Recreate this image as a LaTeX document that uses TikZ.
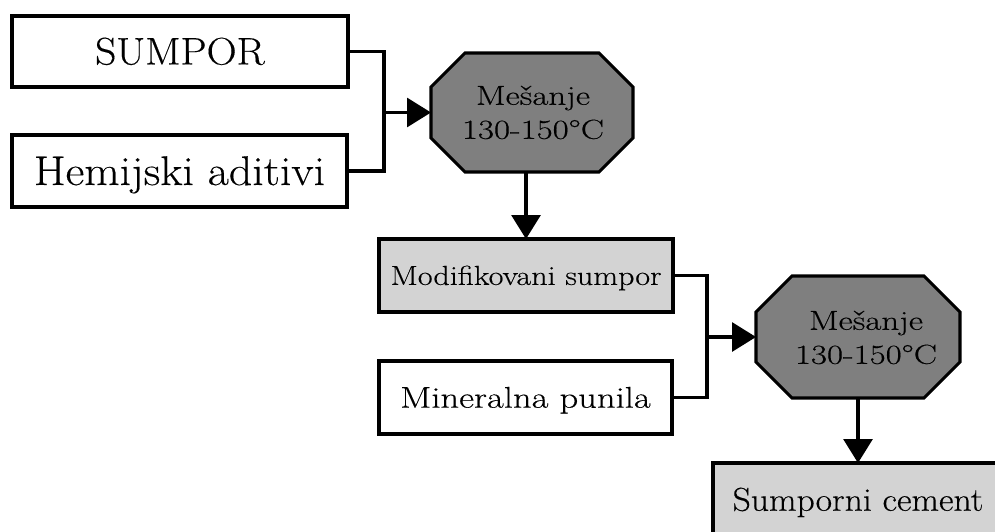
\documentclass[tikz,border=0pt]{standalone}
\usepackage{fontspec}
\setmainfont{Latin Modern Roman}[FakeBold=0.3]
\usetikzlibrary{arrows.meta,calc}

\definecolor{boxgray}{HTML}{D3D3D3}
\definecolor{mixgray}{HTML}{7F7F7F}

\tikzset{
  frame/.style={draw=black, line width=3.1pt, inner sep=0pt, outer sep=0pt,
    text depth=0pt, align=center},
  plainbox/.style={frame, fill=white},
  graybox/.style={frame, fill=boxgray},
  mixer/.style={rectangle, draw=none, inner sep=0pt, outer sep=0pt},
  mixshape/.style={draw=black, fill=mixgray, line width=3.1pt, line join=miter},
  mixlabel/.style={inner sep=0pt, outer sep=0pt,
    font=\fontsize{27.5}{34}\selectfont},
  link/.style={draw=black, line width=3.1pt},
  flow/.style={link, -{Triangle[length=24pt,width=29pt]}},
}

% wide setting of a label: horizontal stretch #1 of text #2
\newcommand\wide[2]{\scalebox{#1}[1]{#2}}

% octagon with chamfered corners, traced around a rectangular node
\newcommand\chamferpath[2]{%
  ($(#1.north west)+(#2,0)$) -- ($(#1.north east)+(-#2,0)$) --
  ($(#1.north east)+(0,#2)$) -- ($(#1.south east)+(0,-#2)$) --
  ($(#1.south east)+(-#2,0)$) -- ($(#1.south west)+(#2,0)$) --
  ($(#1.south west)+(0,-#2)$) -- ($(#1.north west)+(0,#2)$) -- cycle}

\begin{document}
\begin{tikzpicture}[x=1pt,y=-1pt]
  \clip (0,0) rectangle (995,532);
  \fill[white] (0,0) rectangle (995,532);

  % inputs of the first mixing step
  \node[plainbox, minimum width=336pt, minimum height=71pt, text height=26pt,
        font=\fontsize{38.5}{42}\selectfont] (sulfur) at (180,51.5)
        {\wide{1.08}{SUMPOR}};
  \node[plainbox, minimum width=335pt, minimum height=72pt, text height=28pt,
        font=\fontsize{41.5}{45}\selectfont] (additives) at (179.5,171)
        {\wide{1.105}{Hemijski aditivi}};

  % first mixing step
  \node[mixer, minimum width=202pt, minimum height=119pt] (mix1) at (532,112.5) {};
  \path[mixshape] \chamferpath{mix1}{34};
  \node[mixlabel] (mix1text) at ($(mix1)+(1,2.5)$)
        {\wide{1.27}{\begin{tabular}{@{}c@{}}Mešanje\\130-150°C\end{tabular}}};

  % modified sulfur and fillers
  \node[graybox, minimum width=294pt, minimum height=73pt, text height=18.8pt,
        font=\fontsize{27.5}{30}\selectfont] (modified) at (526,275.5)
        {\wide{1.168}{Modifikovani sumpor}};
  \node[plainbox, minimum width=293pt, minimum height=73pt, text height=20.4pt,
        font=\fontsize{30}{33}\selectfont] (fillers) at (525.5,397.5)
        {\wide{1.22}{Mineralna punila}};

  % second mixing step
  \node[mixer, minimum width=204pt, minimum height=122pt] (mix2) at (858,337) {};
  \path[mixshape] \chamferpath{mix2}{36};
  \node[mixlabel] (mix2text) at ($(mix2)+(8,3)$)
        {\wide{1.27}{\begin{tabular}{@{}c@{}}Mešanje\\130-150°C\end{tabular}}};

  % product
  \node[graybox, minimum width=290pt, minimum height=73pt, text height=22.5pt,
        font=\fontsize{33}{36}\selectfont] (cement) at (858,499.5)
        {\wide{1.08}{Sumporni cement}};

  % connectors
  \coordinate (join1) at (384,112.5);
  \coordinate (join2) at (707,337);
  \draw[link] (sulfur.east) -| (join1) |- (additives.east);
  \draw[flow] (join1) -- (mix1.west);
  \draw[flow] (mix1.south -| modified.north) -- (modified.north);
  \draw[link] (modified.east) -| (join2) |- (fillers.east);
  \draw[flow] (join2) -- (mix2.west);
  \draw[flow] (mix2.south) -- (cement.north);
\end{tikzpicture}
\end{document}
